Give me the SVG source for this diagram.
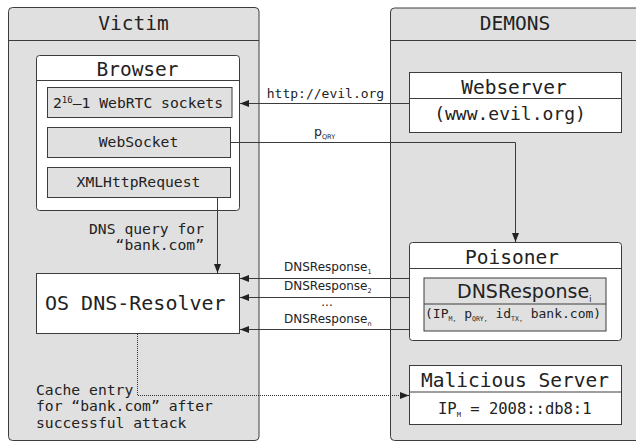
<svg xmlns="http://www.w3.org/2000/svg" width="636" height="442" viewBox="0 0 636 442">
  <defs>
    <marker id="arrow" markerWidth="10" markerHeight="8" refX="9" refY="3.5" orient="auto" markerUnits="userSpaceOnUse">
      <path d="M0,0 L9,3.5 L0,7 z" fill="#222"/>
    </marker>
  </defs>
  <style>
    .panel{fill:#e0e0e0;stroke:#3c3c3c;stroke-width:1}
    .box{fill:#ffffff;stroke:#3c3c3c;stroke-width:1}
    .inner{fill:#e0e0e0;stroke:#3c3c3c;stroke-width:1}
    .sep{stroke:#3c3c3c;stroke-width:1}
    .mono{font-family:"DejaVu Sans Mono","Liberation Mono",monospace;fill:#222}
    .sans{font-family:"DejaVu Sans","Liberation Sans",sans-serif;fill:#222}
    .title{font-size:19.5px;text-anchor:middle}
    .item{font-size:14.7px;text-anchor:middle}
    .conn{fill:none;stroke:#3c3c3c;stroke-width:1}
    .dotted{fill:none;stroke:#333;stroke-width:1;stroke-dasharray:1,1}
    .lbl{font-size:12px}
  </style>

  <!-- Victim side -->
  <g id="victim">
    <rect class="panel" x="8.5" y="7.5" width="250.5" height="433" rx="4"/>
    <line class="sep" x1="8.5" y1="40.5" x2="259" y2="40.5"/>
    <text class="mono title" x="133.5" y="29.5">Victim</text>
  </g>

  <!-- Attacker side -->
  <g id="demons">
    <rect class="panel" x="390.5" y="8" width="260" height="432.5" rx="4"/>
    <line class="sep" x1="390.5" y1="40.5" x2="650" y2="40.5"/>
    <text class="mono title" x="515" y="29.5">DEMONS</text>
  </g>

  <g id="browser">
    <rect class="box" x="36.5" y="55.5" width="203" height="155" rx="3"/>
    <line class="sep" x1="36.5" y1="80.5" x2="239.5" y2="80.5"/>
    <text class="mono title" x="137.5" y="75.5">Browser</text>
  </g>

  <g id="webrtc">
    <rect class="inner" x="47.5" y="87.5" width="184.5" height="30"/>
    <text class="mono" font-size="14.7" x="53" y="108">2<tspan font-size="9" dy="-5.5">16</tspan><tspan dy="5.5">–1 WebRTC sockets</tspan></text>
  </g>

  <g id="websocket">
    <rect class="inner" x="47.5" y="127.5" width="183" height="30"/>
    <text class="mono item" x="138.5" y="147">WebSocket</text>
  </g>

  <g id="xhr">
    <rect class="inner" x="47.5" y="167.5" width="183" height="30"/>
    <text class="mono item" x="138.5" y="187">XMLHttpRequest</text>
  </g>

  <g id="resolver">
    <rect class="box" x="36.5" y="273.5" width="203" height="60"/>
    <text class="mono" font-size="20" x="45" y="310">OS DNS-Resolver</text>
  </g>

  <g id="webserver">
    <rect class="box" x="409.5" y="72.5" width="212" height="60"/>
    <line class="sep" x1="409.5" y1="98.5" x2="621.5" y2="98.5"/>
    <text class="mono title" x="514" y="94">Webserver</text>
    <text class="mono" font-size="18" text-anchor="middle" x="510" y="120">(www.evil.org)</text>
  </g>

  <g id="poisoner">
    <rect class="box" x="409.5" y="242.5" width="212" height="98" rx="3"/>
    <line class="sep" x1="409.5" y1="268.5" x2="621.5" y2="268.5"/>
    <text class="mono title" x="512" y="263.5">Poisoner</text>
    <rect class="inner" x="424" y="278" width="182" height="53"/>
    <line class="sep" x1="424" y1="304" x2="606" y2="304"/>
    <text class="sans" font-size="19" x="457" y="298">DNSResponse<tspan font-size="8" dy="4">i</tspan></text>
    <text class="mono" font-size="13" x="425" y="318">(IP<tspan font-size="6.5" dy="3">M,</tspan><tspan dy="-3"> p</tspan><tspan font-size="6.5" dy="3">QRY,</tspan><tspan dy="-3"> id</tspan><tspan font-size="6.5" dy="3">TX,</tspan><tspan dy="-3"> bank.com)</tspan></text>
  </g>

  <g id="malicious">
    <rect class="box" x="409.5" y="365.5" width="212" height="59"/>
    <line class="sep" x1="409.5" y1="392" x2="621.5" y2="392"/>
    <text class="mono title" x="515" y="387">Malicious Server</text>
    <text class="mono" font-size="15.5" x="438" y="414">IP<tspan font-size="7" dy="3">M</tspan><tspan dy="-3"> = 2008::db8:1</tspan></text>
  </g>

  <!-- Connectors -->
  <g id="connectors">
    <line class="conn" x1="409" y1="103.5" x2="240" y2="103.5" marker-end="url(#arrow)"/>
    <text class="mono" font-size="13" text-anchor="middle" x="325.5" y="98">http://evil.org</text>

    <path class="conn" d="M230.5,142.5 H515.5 V242" marker-end="url(#arrow)"/>
    <text class="sans" font-size="12.5" x="314" y="136">p<tspan font-size="6.5" dy="2.5">QRY</tspan></text>

    <path class="conn" d="M217.5,197.5 V273" marker-end="url(#arrow)"/>
    <text class="mono" font-size="14.7" text-anchor="end" x="204" y="234">DNS query for</text>
    <text class="mono" font-size="14.7" text-anchor="end" x="204" y="249.5">“bank.com”</text>

    <line class="conn" x1="409" y1="278.5" x2="240" y2="278.5" marker-end="url(#arrow)"/>
    <line class="conn" x1="409" y1="297.5" x2="240" y2="297.5" marker-end="url(#arrow)"/>
    <line class="conn" x1="409" y1="329.5" x2="240" y2="329.5" marker-end="url(#arrow)"/>
    <text class="sans lbl" x="284" y="271">DNSResponse<tspan font-size="6.5" dy="3">1</tspan></text>
    <text class="sans lbl" x="284" y="290">DNSResponse<tspan font-size="6.5" dy="3">2</tspan></text>
    <text class="sans lbl" text-anchor="middle" x="327" y="306">...</text>
    <text class="sans lbl" x="284" y="323">DNSResponse<tspan font-size="6.5" dy="3">n</tspan></text>

    <path class="dotted" d="M137.5,334 V395.5 H409" marker-end="url(#arrow)"/>
    <text class="mono" font-size="14.7" x="36" y="394.5">Cache entry</text>
    <text class="mono" font-size="14.7" x="36" y="411">for “bank.com” after</text>
    <text class="mono" font-size="14.7" x="36" y="427.5">successful attack</text>
  </g>
</svg>
